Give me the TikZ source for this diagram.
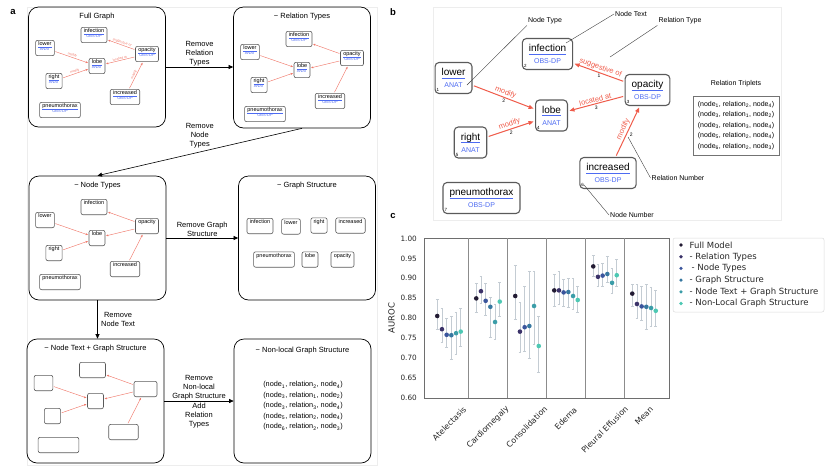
\documentclass[tikz,border=0pt]{standalone}
\usepackage{fontspec}
\setmainfont{Liberation Sans}
\newfontfamily\plotfont{DejaVu Sans}
\usepackage{xcolor}
\usepackage{tikz}
\usetikzlibrary{arrows.meta, positioning}

\definecolor{relred}{HTML}{EF5B4A}
\definecolor{minired}{HTML}{F07A6C}
\definecolor{typeblue}{HTML}{4D6BF2}
\definecolor{boxgray}{HTML}{5A5A5A}
\definecolor{errgray}{HTML}{C4CCD3}
\definecolor{plotgray}{HTML}{6E6E6E}
\definecolor{m1}{HTML}{221B33}
\definecolor{m2}{HTML}{3B3269}
\definecolor{m3}{HTML}{3A559C}
\definecolor{m4}{HTML}{3677A0}
\definecolor{m5}{HTML}{3B9DA8}
\definecolor{m6}{HTML}{4DC8B3}

\newcommand{\fs}[2]{\fontsize{#1}{#2}\selectfont}
\newsavebox{\wordbox}
\newcommand{\uw}[1]{\sbox{\wordbox}{#1}\rlap{\textcolor{typeblue}{\rule[-0.27em]{\wd\wordbox}{0.07em}}}\usebox{\wordbox}}
% node contents: word + type, word only, blank
\newcommand{\fulltxt}[2]{\uw{#1}\\{\color{typeblue}\fs{4}{4.5}#2}}
\newcommand{\wordtxt}[2]{#1\\{\fs{4}{4.5}\phantom{#2}}}
\newcommand{\blanktxt}[2]{\phantom{#1}\\{\fs{4}{4.5}\phantom{#2}}}
\newcommand{\bigtxt}[2]{\uw{#1}\\{\color{typeblue}\fs{7}{8}#2}}
\newcommand{\trip}[3]{(node\textsubscript{#1}, relation\textsubscript{#2}, node\textsubscript{#3})}

% the seven nodes of a small report graph
\newcommand{\minigraph}[1]{%
  \node[mini] (infection) at (94,35) {#1{infection}{OBS-DP}};
  \node[mini] (lower) at (45,48) {#1{lower}{ANAT}};
  \node[mini] (lobe) at (97,66) {#1{lobe}{ANAT}};
  \node[mini] (opacity) at (147,54) {#1{opacity}{OBS-DP}};
  \node[mini] (right) at (54,81) {#1{right}{ANAT}};
  \node[mini] (increased) at (125,97) {#1{increased}{OBS-DP}};
  \node[mini] (pneumo) at (60,110) {#1{pneumothorax}{OBS-DP}};
}
\newcommand{\miniedges}{%
  \draw[minirel] (opacity) -- (infection);
  \draw[minirel] (lower) -- (lobe);
  \draw[minirel] (opacity) -- (lobe);
  \draw[minirel] (right) -- (lobe);
  \draw[minirel] (increased) -- (opacity);
}

\begin{document}
\begin{tikzpicture}[
  x=1pt, y=-1pt,
  font=\fs{7.5}{9},
  panel/.style={draw, rounded corners=10pt, line width=0.7pt, minimum width=137pt, minimum height=122pt},
  ptitle/.style={anchor=center, yshift=-10pt},
  flow/.style={-{Triangle[length=4.5pt,width=4pt]}, line width=0.6pt},
  mini/.style={draw=boxgray, line width=0.6pt, rounded corners=2pt, fill=white, align=center,
    font=\fs{5.5}{5}, inner xsep=2.8pt, inner ysep=1.2pt, text depth=4pt},
  minirel/.style={draw=minired, line width=0.45pt, -{Triangle[length=2.2pt,width=1.8pt]}, shorten >=0.8pt, shorten <=0.8pt},
  minilab/.style={text=minired, font=\fs{3.3}{3.5}, sloped, above, inner sep=0.5pt, midway},
  bnode/.style={draw=boxgray, line width=1.1pt, rounded corners=4pt, fill=white, align=center,
    font=\fs{10}{12}, inner xsep=6.5pt, inner ysep=2pt, minimum height=31pt},
  num/.style={anchor=south west, font=\fs{4.5}{5}, inner sep=2pt},
  rel/.style={draw=relred, line width=1pt, -{Triangle[length=5pt,width=4pt]}, shorten >=1.5pt, shorten <=1.5pt},
  rellab/.style={text=relred, font=\fs{7.5}{8}, sloped, above, inner sep=1pt, midway},
  relnum/.style={font=\fs{5}{5}, below, inner sep=1.5pt, midway},
  note/.style={font=\fs{7}{8}, inner sep=1pt},
  callout/.style={draw=black!75, line width=0.4pt},
  faint/.style={draw=black!7, line width=0.5pt},
  plotframe/.style={draw=plotgray, line width=0.9pt},
  divider/.style={draw=black!45, line width=0.6pt},
  errbar/.style={draw=errgray, line width=0.8pt},
  ticklab/.style={font=\plotfont\fs{7.3}{8}, text=black!85, anchor=east, inner sep=1pt},
  catlab/.style={font=\plotfont\fs{8}{9}, text=black!85, rotate=45, inner sep=0pt}
]
\useasboundingbox (0,0) rectangle (830,467);

% panel letters and faint frames
\draw[faint] (27,7) rectangle (377,465);
\draw[faint] (433,7) rectangle (781,220);
\node[font=\bfseries\fs{9.5}{10}] (la) at (13,12) {a};
\node[font=\bfseries\fs{9.5}{10}] (lb) at (393,12) {b};
\node[font=\bfseries\fs{9.5}{10}] (lc) at (393,216) {c};

% panel a boxes
\node[panel, minimum height=120pt, label={[ptitle]north:Full Graph}] (full) at (97,67) {};
\node[panel, minimum height=121pt, label={[ptitle]north:− Relation Types}] (reltypes) at (302,67.5) {};
\node[panel, minimum height=124pt, label={[ptitle]north:− Node Types}] (nodetypes) at (97.5,238) {};
\node[panel, minimum height=124pt, label={[ptitle]north:− Graph Structure}] (graphstruct) at (307,238) {};
\node[panel, minimum height=124pt, label={[ptitle]north:− Node Text + Graph Structure}] (nodetext) at (95.5,401) {};
\node[panel, minimum height=124pt, label={[ptitle, yshift=-2pt]north:− Non-local Graph Structure}] (nonlocal) at (302.5,401) {};

\draw[flow] (full.east) -- node[above, align=center, inner sep=1pt]{Remove\\Relation\\Types} (full.east -| reltypes.west);
\draw[flow] (reltypes.south) -- node[above, align=center]{Remove\\Node\\Types} (nodetypes.north);
\draw[flow] (nodetypes) -- node[above, align=center, inner sep=1.5pt]{Remove Graph\\Structure} (graphstruct);
\draw[flow] (nodetypes.south) -- node[right, align=center]{Remove\\Node Text} (nodetypes.south |- nodetext.north);
\draw[flow] (nodetext) -- node[above, align=center, inner sep=1pt]{Remove\\Non-local\\Graph Structure}
  node[below, align=center, inner sep=2pt]{Add\\Relation\\Types} (nonlocal);

% full graph
\begin{scope}[name prefix=fg-]
\minigraph{\fulltxt}
\draw[minirel] (opacity) -- node[minilab]{suggestive of} (infection);
\draw[minirel] (lower) -- node[minilab]{modify} (lobe);
\draw[minirel] (opacity) -- node[minilab]{located at} (lobe);
\draw[minirel] (right) -- node[minilab]{modify} (lobe);
\draw[minirel] (increased) -- node[minilab]{modify} (opacity);
\end{scope}

% - relation types
\begin{scope}[shift={(205,4)}, name prefix=rt-]
\minigraph{\fulltxt}
\miniedges
\end{scope}

% - node types
\begin{scope}[shift={(0,172)}, name prefix=nt-]
\minigraph{\wordtxt}
\miniedges
\end{scope}

% - node text + graph structure
\begin{scope}[shift={(-1.5,335)}, name prefix=tx-]
\minigraph{\blanktxt}
\miniedges
\end{scope}

% - graph structure
\node[mini] (gs-infection) at (260,226) {\wordtxt{infection}{OBS-DP}};
\node[mini] (gs-lower) at (291,226.5) {\wordtxt{lower}{ANAT}};
\node[mini] (gs-right) at (319,225.5) {\wordtxt{right}{ANAT}};
\node[mini] (gs-increased) at (350.5,225.5) {\wordtxt{increased}{OBS-DP}};
\node[mini] (gs-pneumo) at (274,259.5) {\wordtxt{pneumothorax}{OBS-DP}};
\node[mini] (gs-lobe) at (310,259.5) {\wordtxt{lobe}{ANAT}};
\node[mini] (gs-opacity) at (342.5,259.5) {\wordtxt{opacity}{OBS-DP}};

% - non-local graph structure
\node[align=center, font=\fs{7.3}{10.5}] (nltrip) at (303,406) {\trip{1}{2}{4}\\ \trip{3}{1}{2}\\ \trip{3}{3}{4}\\ \trip{5}{2}{4}\\ \trip{6}{2}{3}};

% panel b
\node[bnode, label={[num]south west:2}] (infection) at (547.5,54) {\bigtxt{infection}{OBS-DP}};
\node[bnode, label={[num]south west:1}] (lower) at (453.5,78) {\bigtxt{lower}{ANAT}};
\node[bnode, label={[num]south west:4}] (lobe) at (551.5,115.5) {\bigtxt{lobe}{ANAT}};
\node[bnode, label={[num]south west:3}] (opacity) at (647.5,90) {\bigtxt{opacity}{OBS-DP}};
\node[bnode, label={[num]south west:5}] (right) at (470.5,142.5) {\bigtxt{right}{ANAT}};
\node[bnode, label={[num]south west:6}] (increased) at (608,173) {\bigtxt{increased}{OBS-DP}};
\node[bnode, label={[num]south west:7}] (pneumo) at (481.5,198) {\bigtxt{pneumothorax}{OBS-DP}};

\draw[rel] (opacity) -- node[rellab]{suggestive of} node[relnum]{1} (infection);
\draw[rel] (lower) -- node[rellab]{modify} node[relnum]{2} (lobe);
\draw[rel] (opacity) -- node[rellab]{located at} node[relnum]{3} (lobe);
\draw[rel] (right) -- node[rellab]{modify} node[relnum]{2} (lobe);
\draw[rel] (increased) -- node[rellab]{modify} node[relnum, below right]{2} (opacity);

\node[note] (ntype) at (545,21) {Node Type};
\node[note] (ntext) at (631,14) {Node Text};
\node[note] (rtype) at (680,21) {Relation Type};
\node[note] (rnum) at (678,178) {Relation Number};
\node[note] (nnum) at (632,215) {Node Number};
\coordinate (ntypept) at (467,85);
\coordinate (ntextpt) at (566,43);
\coordinate (rtypept) at (610,57);
\coordinate (rnumpt) at (628,137);
\coordinate (nnumpt) at (584,185);
\draw[callout] (ntype.south west) -- (ntypept);
\draw[callout] (ntext.west) -- (ntextpt);
\draw[callout] (rtype.south west) -- (rtypept);
\draw[callout] (rnum.west) -- (rnumpt);
\draw[callout] (nnum.west) -- (nnumpt);

\node[font=\fs{7}{8}] (trtitle) at (736,84) {Relation Triplets};
\node[draw=black!55, line width=0.8pt, align=center, font=\fs{7}{10.5}, minimum width=86pt, minimum height=59pt] (triplets) at (736,125.5)
  {\trip{1}{2}{4}\\ \trip{3}{1}{2}\\ \trip{3}{3}{4}\\ \trip{5}{2}{4}\\ \trip{6}{2}{3}};

% panel c
\draw[plotframe] (424,238) rectangle (669,398);
\foreach \xd in {468.5,507.5,546.5,585.5,624.5}
  \draw[divider] (\xd,238) -- (\xd,398);
\foreach \t [count=\i from 0] in {0.60,0.65,0.70,0.75,0.80,0.85,0.90,0.95,1.00}
  \node[ticklab] (yt\i) at (418,398-19.95*\i) {\t};
\node[font=\plotfont\fs{8.5}{9}, text=black!85, rotate=90] (auroc) at (391.5,318) {AUROC};

\begin{scope}[shift={(0,638)}, y=400pt]
\foreach \g/\m/\v/\lo/\hi in {
  0/1/0.805/0.771/0.846, 0/2/0.772/0.738/0.824, 0/3/0.758/0.727/0.799, 0/4/0.757/0.696/0.803, 0/5/0.762/0.708/0.814, 0/6/0.766/0.730/0.825,
  1/1/0.849/0.814/0.886, 1/2/0.867/0.836/0.905, 1/3/0.843/0.807/0.887, 1/4/0.828/0.751/0.851, 1/5/0.790/0.746/0.834, 1/6/0.841/0.803/0.890,
  2/1/0.855/0.797/0.931, 2/2/0.766/0.715/0.839, 2/3/0.777/0.717/0.878, 2/4/0.780/0.698/0.916, 2/5/0.830/0.734/0.916, 2/6/0.730/0.663/0.805,
  3/1/0.869/0.830/0.909, 3/2/0.869/0.833/0.916, 3/3/0.864/0.830/0.896, 3/4/0.865/0.826/0.900, 3/5/0.855/0.822/0.899, 3/6/0.845/0.814/0.880,
  4/1/0.929/0.905/0.956, 4/2/0.903/0.878/0.934, 4/3/0.906/0.878/0.937, 4/4/0.910/0.890/0.953, 4/5/0.888/0.861/0.924, 4/6/0.907/0.878/0.947,
  5/1/0.861/0.829/0.884, 5/2/0.835/0.800/0.884, 5/3/0.829/0.793/0.880, 5/4/0.828/0.772/0.884, 5/5/0.825/0.778/0.876, 5/6/0.818/0.778/0.870}
{
  \pgfmathsetmacro\xx{449+39*\g+4.7*(\m-3.5)}
  \draw[errbar] (\xx,\lo) -- (\xx,\hi);
  \draw[errbar] (\xx-1.4,\lo) -- (\xx+1.4,\lo);
  \draw[errbar] (\xx-1.4,\hi) -- (\xx+1.4,\hi);
  \fill[m\m] (\xx,\v) circle (2.3pt);
}
\end{scope}

\foreach \x/\y/\t [count=\i] in {449.2/423.7/Atelectasis, 488/427.3/Cardiomegaly, 526.7/427/Consolidation,
  565.7/418.3/Edema, 604.7/429.7/Pleural Effusion, 644/415.7/Mean}
  \node[catlab] (cat\i) at (\x,\y) {\t};

% legend
\node[draw=black!15, line width=0.5pt, rounded corners=2pt, minimum width=151pt, minimum height=74pt] (legend) at (748.5,275) {};
\foreach \t [count=\i] in {Full Model, - Relation Types, \hspace{2pt}- Node Types, - Graph Structure,
  - Node Text + Graph Structure, - Non-Local Graph Structure}
{
  \fill[m\i] (681,233.3+11.7*\i) circle (1.8pt);
  \node[font=\plotfont\fs{8.5}{9}, text=black!85, anchor=west, inner sep=0pt] (leg\i) at (689.5,233.3+11.7*\i) {\t};
}

\end{tikzpicture}
\end{document}
